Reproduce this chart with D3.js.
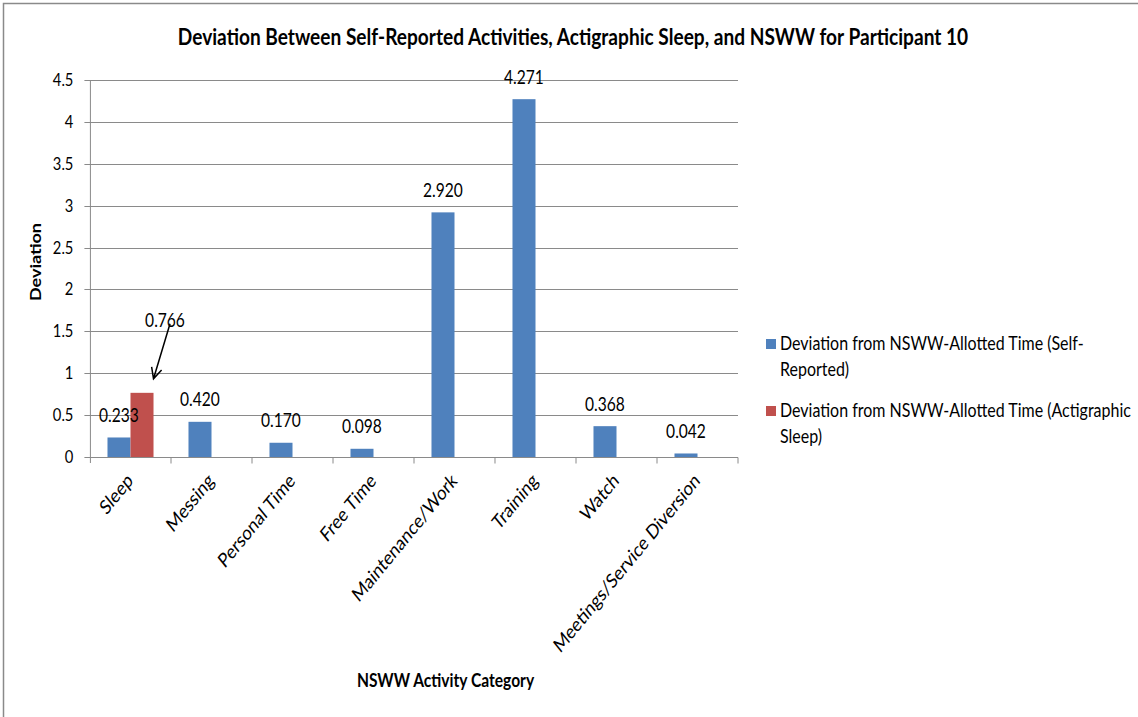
<!DOCTYPE html>
<html>
<head>
<meta charset="utf-8">
<script src="https://cdn.jsdelivr.net/npm/d3@7"></script>
<style>
  html, body { margin: 0; padding: 0; background: #fff; }
  svg { display: block; font-family: Lato, "Open Sans", sans-serif; }
</style>
</head>
<body>
<svg id="chart" width="1138" height="717"></svg>
<script>
// ---- data ----
const categories = ["Sleep", "Messing", "Personal Time", "Free Time", "Maintenance/Work", "Training", "Watch", "Meetings/Service Diversion"];
const seriesKeys = ["self", "actig"];
const seriesNames = ["Deviation from NSWW-Allotted Time (Self-Reported)", "Deviation from NSWW-Allotted Time (Actigraphic Sleep)"];
const legendLines = [["Deviation from NSWW-Allotted Time (Self-", "Reported)"], ["Deviation from NSWW-Allotted Time (Actigraphic", "Sleep)"]];
const selfReported = [0.233, 0.420, 0.170, 0.098, 2.920, 4.271, 0.368, 0.042];
const actigraphic = [0.766, null, null, null, null, null, null, null];
const yTickValues = [0, 0.5, 1, 1.5, 2, 2.5, 3, 3.5, 4, 4.5];
const yTickLabels = ["0", "0.5", "1", "1.5", "2", "2.5", "3", "3.5", "4", "4.5"];
const colors = ["#4F81BD", "#C0504D"];
const titleText = "Deviation Between Self-Reported Activities, Actigraphic Sleep, and NSWW for Participant 10";
const xTitle = "NSWW Activity Category";
const yTitle = "Deviation";

// ---- layout ----
const S = 0.82;            // horizontal compression of the original picture
const X = v => v / S;      // actual px -> inner px
const plot = { left: 90, right: 738, top: 80, bottom: 457 };
const gridColor = "#8a8a8a";

const svg = d3.select("#chart");
// outer chart frame (left & top edges visible)
svg.append("rect").attr("x", 3.5).attr("y", 3.5).attr("width", 1200).attr("height", 800)
  .attr("fill", "none").attr("stroke", "#8a8a8a").attr("stroke-width", 1.5);

const g = svg.append("g").attr("transform", `scale(${S},1)`);

const x0 = d3.scaleBand().domain(categories).range([X(plot.left), X(plot.right)]).paddingInner(0).paddingOuter(0);
const x1 = d3.scaleBand().domain(seriesKeys).range([0, x0.bandwidth()]).paddingInner(0).paddingOuter(0.76);
const y = d3.scaleLinear().domain([0, 4.5]).range([plot.bottom, plot.top]);

// gridlines
g.append("g").selectAll("line").data(yTickValues.filter(v => v > 0)).join("line")
  .attr("x1", X(plot.left)).attr("x2", X(plot.right))
  .attr("y1", d => Math.round(y(d)) + 0.5).attr("y2", d => Math.round(y(d)) + 0.5)
  .attr("stroke", gridColor).attr("stroke-width", 1).attr("vector-effect", "non-scaling-stroke");

// y axis
const yAxis = d3.axisLeft(y).tickValues(yTickValues)
  .tickFormat((d, i) => yTickLabels[i]).tickSize(X(6)).tickPadding(X(11));
const ya = g.append("g").attr("transform", `translate(${X(plot.left) + 0.5},0)`).call(yAxis);
ya.select(".domain").attr("d", `M0,${plot.top}V${plot.bottom + 6}`).attr("stroke", gridColor).attr("vector-effect", "non-scaling-stroke");
ya.selectAll(".tick line").attr("stroke", gridColor).attr("vector-effect", "non-scaling-stroke");
ya.selectAll(".tick").attr("transform", d => `translate(0,${Math.round(y(d)) + 0.5})`);
ya.selectAll(".tick text").attr("font-size", 18).attr("fill", "#000").attr("font-family", "Lato");

// x axis (line + category boundary ticks)
const xa = g.append("g");
xa.append("line").attr("x1", X(plot.left)).attr("x2", X(plot.right))
  .attr("y1", Math.round(y(0)) + 0.5).attr("y2", Math.round(y(0)) + 0.5)
  .attr("stroke", gridColor).attr("vector-effect", "non-scaling-stroke");
const boundaries = categories.slice(1).map(c => x0(c)).concat([X(plot.right)]);
xa.selectAll("line.tk").data(boundaries).join("line").attr("class", "tk")
  .attr("x1", d => d).attr("x2", d => d)
  .attr("y1", Math.round(y(0)) + 0.5).attr("y2", Math.round(y(0)) + 6.5)
  .attr("stroke", gridColor).attr("vector-effect", "non-scaling-stroke");

// bars
const rows = categories.map((c, i) => ({ c, vals: [selfReported[i], actigraphic[i]] }));
const grp = g.append("g").selectAll("g").data(rows).join("g")
  .attr("transform", d => `translate(${x0(d.c)},0)`);
grp.selectAll("rect").data(d => d.vals.map((v, k) => ({ v, k })).filter(e => e.v != null)).join("rect")
  .attr("x", e => x1(seriesKeys[e.k]))
  .attr("width", x1.bandwidth())
  .attr("y", e => y(e.v))
  .attr("height", e => y(0) - y(e.v))
  .attr("fill", e => colors[e.k]);

// data labels (self-reported, directly above bars)
g.append("g").selectAll("text").data(rows).join("text")
  .attr("x", d => x0(d.c) + x1("self") + x1.bandwidth() / 2)
  .attr("y", d => y(d.vals[0]) - 15.5)
  .attr("text-anchor", "middle").attr("font-size", 19).attr("fill", "#000")
  .text(d => d.vals[0].toFixed(3));

// actigraphic label with arrow callout
const redTopX = x0("Sleep") + x1("actig") + x1.bandwidth();
const lblX = x0("Sleep") + x1("actig") + x1.bandwidth() / 2 + X(23);
const lblY = y(actigraphic[0]) - 66;
g.append("text").attr("x", lblX).attr("y", lblY).attr("text-anchor", "middle")
  .attr("font-size", 19).attr("fill", "#000").text(actigraphic[0].toFixed(3));

// arrow in actual coordinates
const ax1 = (lblX + X(5)) * S, ay1 = lblY - 3;
const ax2 = redTopX * S, ay2 = y(actigraphic[0]) - 14;
const ang = Math.atan2(ay2 - ay1, ax2 - ax1);
const hl = 12, spread = Math.PI / 7;
const arrowPath = `M${ax1},${ay1}L${ax2},${ay2}` +
  `M${ax2 - hl * Math.cos(ang - spread)},${ay2 - hl * Math.sin(ang - spread)}L${ax2},${ay2}` +
  `L${ax2 - hl * Math.cos(ang + spread)},${ay2 - hl * Math.sin(ang + spread)}`;
svg.append("path").attr("d", arrowPath).attr("fill", "none").attr("stroke", "#000").attr("stroke-width", 1.5);

// x category labels (rotated)
g.append("g").selectAll("text").data(categories).join("text")
  .attr("transform", c => `translate(${x0(c) + x0.bandwidth() / 2 - X(0.5)},477) rotate(-45)`)
  .attr("text-anchor", "end").attr("dy", "0.35em")
  .attr("font-size", 20).attr("fill", "#000").text(c => c);

// titles
g.append("text").attr("x", X(573)).attr("y", 45).attr("text-anchor", "middle")
  .attr("font-size", 23.3).attr("font-weight", "bold").attr("fill", "#000").text(titleText);
g.append("text").attr("x", X(445.5)).attr("y", 687).attr("text-anchor", "middle")
  .attr("font-size", 19).attr("font-weight", "bold").attr("fill", "#000").text(xTitle);
g.append("text").attr("transform", `translate(${X(41)},262) rotate(-90)`).attr("text-anchor", "middle")
  .attr("font-size", 18).attr("font-weight", "bold").attr("fill", "#000").text(yTitle);

// legend
const legendTop = [339, 406];
const lg = g.append("g").selectAll("g").data(seriesNames).join("g");
lg.append("rect").attr("x", X(766)).attr("y", (d, i) => legendTop[i])
  .attr("width", X(10)).attr("height", 10).attr("fill", (d, i) => colors[i]);
lg.append("text").attr("x", X(780)).attr("y", (d, i) => legendTop[i] + 11)
  .attr("font-size", 19.5).attr("fill", "#000")
  .selectAll("tspan").data((d, i) => legendLines[i]).join("tspan")
  .attr("x", X(780)).attr("dy", (d, j) => j === 0 ? 0 : 26).text(d => d);
</script>
</body>
</html>
